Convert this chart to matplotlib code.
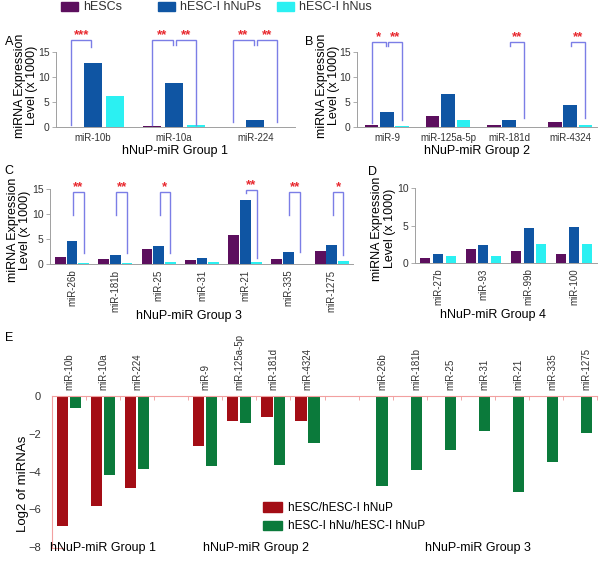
import numpy as np
import matplotlib
matplotlib.use("Agg")
import matplotlib.pyplot as plt
from matplotlib.patches import Rectangle, Patch

plt.rcParams["font.family"] = ["Liberation Sans", "DejaVu Sans"]

# ---- data -------------------------------------------------------------
series = ["hESCs", "hESC-I hNuPs", "hESC-I hNus"]
colors = ["#5c0f5e", "#0f55a3", "#2bf0f2"]

a_labels = ["miR-10b", "miR-10a", "miR-224"]
a_hesc = [0.08, 0.12, 0.06]
a_nup = [12.9, 8.8, 1.4]
a_nus = [6.3, 0.4, 0.1]

b_labels = ["miR-9", "miR-125a-5p", "miR-181d", "miR-4324"]
b_hesc = [0.5, 2.2, 0.5, 1.1]
b_nup = [3.1, 6.7, 1.5, 4.4]
b_nus = [0.3, 1.4, 0.1, 0.4]

c_labels = ["miR-26b", "miR-181b", "miR-25", "miR-31", "miR-21", "miR-335", "miR-1275"]
c_hesc = [1.5, 1.0, 3.1, 0.8, 5.9, 1.0, 2.6]
c_nup = [4.6, 1.9, 3.6, 1.3, 12.8, 2.4, 3.8]
c_nus = [0.2, 0.15, 0.5, 0.4, 0.4, 0.1, 0.6]

d_labels = ["miR-27b", "miR-93", "miR-99b", "miR-100"]
d_hesc = [0.65, 1.9, 1.55, 1.2]
d_nup = [1.2, 2.45, 4.7, 4.75]
d_nus = [0.93, 1.0, 2.6, 2.6]

# significance brackets: (group, bar i, bar j, top, left leg bottom, right leg bottom, stars)
a_sig = [(0, 0, 1, 17.4, 0.5, 16.0, "***"),
         (1, 0, 1, 17.4, 0.5, 16.5, "**"), (1, 1, 2, 17.4, 16.5, 0.5, "**"),
         (2, 0, 1, 17.4, 1.0, 16.5, "**"), (2, 1, 2, 17.4, 16.5, 1.0, "**")]
b_sig = [(0, 0, 1, 17.0, 0.8, 16.3, "*"), (0, 1, 2, 17.0, 16.3, 1.4, "**"),
         (2, 1, 2, 17.0, 16.3, 1.8, "**"), (3, 1, 2, 17.0, 16.3, 1.8, "**")]
c_sig = [(0, 1, 2, 14.4, 9.8, 2.2, "**"), (1, 1, 2, 14.4, 9.8, 2.2, "**"),
         (2, 1, 2, 14.4, 9.8, 2.2, "*"), (4, 1, 2, 14.8, 14.2, 1.2, "**"),
         (5, 1, 2, 14.4, 9.8, 2.4, "**"), (6, 1, 2, 14.4, 9.8, 1.8, "*")]

e_groups = ["hNuP-miR Group 1", "hNuP-miR Group 2", "hNuP-miR Group 3"]
e_labels = [a_labels, b_labels, c_labels]
e_ratio1 = [[-6.9, -5.85, -4.85], [-2.65, -1.32, -1.1, -1.3], []]
e_ratio2 = [[-0.63, -4.2, -3.85], [-3.7, -1.42, -3.65, -2.5],
            [-4.77, -3.9, -2.87, -1.83, -5.07, -3.5, -1.95]]
e_series = ["hESC/hESC-I hNuP", "hESC-I hNu/hESC-I hNuP"]
e_colors = ["#a30d15", "#0b7a3b"]

# ---- layout -----------------------------------------------------------
W, H = 601, 564
fig = plt.figure(figsize=(W / 100, H / 100), dpi=100)


def rect(l, t, r, b):
    return [l / W, 1 - b / H, (r - l) / W, (b - t) / H]


bracket_c = "#7b7ee6"
grey = "#a0a0a0"


def bar_panel(pos, labels, vals, ylim, yticks, xlim, width, off, sig, xlabel,
              rotate, label_xy, ylabel_xy):
    ax = fig.add_axes(pos)
    x = np.arange(len(labels))
    for k, v in enumerate(vals):
        ax.bar(x + (k - 1) * off, v, width, color=colors[k])
    ax.set_xlim(*xlim)
    ax.set_ylim(*ylim)
    ax.set_yticks(yticks)
    ax.set_xticks(x)
    if rotate:
        ax.set_xticklabels(labels, rotation=90, fontsize=7, color="#333333")
    else:
        ax.set_xticklabels(labels, fontsize=7, color="#333333")
    ax.tick_params(axis="x", length=0, pad=4)
    ax.tick_params(axis="y", length=3, width=0.6, color=grey, labelsize=7.5,
                   labelcolor="#333333", pad=1.5)
    for s in ["top", "right"]:
        ax.spines[s].set_visible(False)
    for s in ["left", "bottom"]:
        ax.spines[s].set_color(grey)
        ax.spines[s].set_linewidth(0.7)
    ax.spines["left"].set_bounds(0, yticks[-1])
    ax.set_ylabel("miRNA Expression\nLevel (x 1000)", fontsize=9,
                  linespacing=1.05)
    ax.yaxis.set_label_coords(*ylabel_xy)
    ax.set_xlabel(xlabel, fontsize=9)
    ax.xaxis.set_label_coords(*label_xy)
    for g, i, j, top, lb, rb, stars in sig:
        x1 = g + (i - 1) * off + (0.02 if i == 1 else 0)
        x2 = g + (j - 1) * off - (0.02 if j == 1 else 0)
        ax.plot([x1, x1, x2, x2], [lb, top, top, rb], color=bracket_c, lw=1.0,
                clip_on=False, solid_joinstyle="miter")
        ax.text((x1 + x2) / 2, top + 0.35, stars, ha="center", va="baseline",
                color="#e8282e", fontsize=9.5, fontweight="bold", clip_on=False)
    return ax


axA = bar_panel(rect(56, 34.5, 295, 127), a_labels, [a_hesc, a_nup, a_nus],
                (0, 18.5), [0, 5, 10, 15], (-0.457, 2.49), 0.22, 0.27, a_sig,
                "hNuP-miR Group 1", False, (0.5, -0.19), (-0.075, 0.45))
axB = bar_panel(rect(357, 34.5, 597, 127), b_labels, [b_hesc, b_nup, b_nus],
                (0, 18.5), [0, 5, 10, 15], (-0.49, 3.44), 0.22, 0.25, b_sig,
                "hNuP-miR Group 2", False, (0.5, -0.19), (-0.07, 0.45))
axC = bar_panel(rect(50, 179, 353, 264), c_labels, [c_hesc, c_nup, c_nus],
                (0, 17), [0, 5, 10, 15], (-0.51, 6.49), 0.25, 0.27, c_sig,
                "hNuP-miR Group 3", True, (0.46, -0.54), (-0.062, 0.4))
axD = bar_panel(rect(415, 186, 597, 263), d_labels, [d_hesc, d_nup, d_nus],
                (0, 10.3), [0, 5, 10], (-0.51, 3.51), 0.22, 0.28, [],
                "hNuP-miR Group 4", True, (0.43, -0.6), (-0.105, 0.45))

for lab, (px, py) in zip("ABCDE", [(5, 42), (305, 42), (4, 171), (368, 172), (5, 338)]):
    fig.text(px / W, 1 - py / H, lab, fontsize=9, va="center", ha="left")

# top legend
for name, col, px in zip(series, colors, [61, 158, 277]):
    fig.patches.append(Rectangle((px / W, 1 - 10.5 / H), 17 / W, 8 / H,
                                 transform=fig.transFigure, color=col))
    fig.text((px + 22) / W, 1 - 7 / H, name, fontsize=9, va="center",
             color="#333333")

# ---- panel E ----------------------------------------------------------
axE = fig.add_axes(rect(52, 396, 597, 548))
bw, eoff = 0.33, 0.19
tick_pos, tick_lab, centers = [], [], []
start = 0
for labs, r1, r2 in zip(e_labels, e_ratio1, e_ratio2):
    xs = np.arange(len(labs)) + start
    if len(r1):
        axE.bar(xs[:len(r1)] - eoff, r1, bw, color=e_colors[0])
        tick_pos += list(xs)
    else:
        tick_pos += list(xs + eoff)
    axE.bar(xs + eoff, r2, bw, color=e_colors[1])
    tick_lab += labs
    centers.append(xs.mean())
    start += len(labs) + 1

axE.set_xlim(-0.47, 15.45)
axE.set_ylim(-8.05, 0)
axE.set_yticks([0, -2, -4, -6, -8])
axE.tick_params(axis="y", length=0, labelsize=8, labelcolor="#333333", pad=8)
axE.xaxis.tick_top()
axE.set_xticks(tick_pos)
axE.set_xticklabels(tick_lab, rotation=90, fontsize=7, color="#333333")
axE.set_xticks(np.arange(-0.5, 15.6, 1.0), minor=True)
axE.tick_params(axis="x", which="major", length=0, pad=4)
axE.tick_params(axis="x", which="minor", length=3, direction="in",
                color="#f0a8a8", width=0.7)
pink = "#f2a0a0"
axE.spines["right"].set_visible(False)
for s in ["top", "left", "bottom"]:
    axE.spines[s].set_color(pink)
    axE.spines[s].set_linewidth(0.8)
axE.spines["bottom"].set_bounds(-0.47, -0.15)
axE.set_ylabel("Log2 of miRNAs", fontsize=9.5)
axE.yaxis.set_label_coords(-0.043, 0.42)
for c, g in zip(centers, e_groups):
    axE.text(c, -8.05, g, ha="center", va="center", fontsize=9,
             transform=axE.transData, clip_on=False)

handles = [Patch(color=c) for c in e_colors]
axE.legend(handles, e_series, loc="upper left",
           bbox_to_anchor=(263 / W, 1 - 502 / H), bbox_transform=fig.transFigure,
           frameon=False, fontsize=8.5, borderpad=0, borderaxespad=0,
           handlelength=1.6, handleheight=0.9, handletextpad=0.5,
           labelspacing=0.55)

fig.savefig("out.png", dpi=100)
